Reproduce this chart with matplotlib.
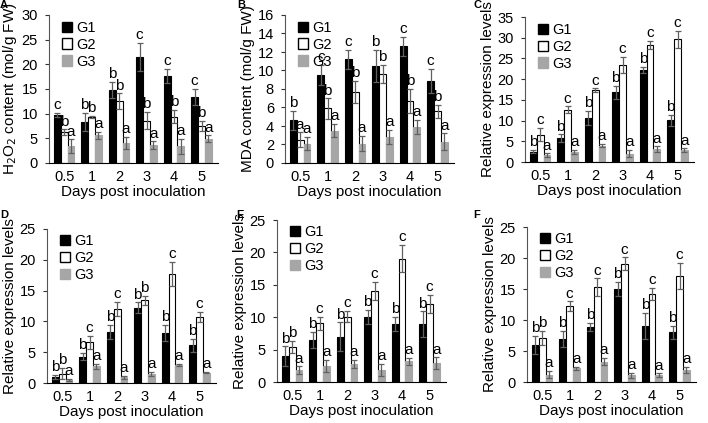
import numpy as np
import matplotlib
matplotlib.use("Agg")
import matplotlib.pyplot as plt
from matplotlib.patches import Patch

plt.rcParams["font.family"] = ["Liberation Sans", "DejaVu Sans"]

days = ["0.5", "1", "2", "3", "4", "5"]
groups = ["G1", "G2", "G3"]

# panel A: H2O2
a_mean = [[9.8, 8.3, 14.8, 21.5, 17.7, 13.4],
          [6.2, 9.4, 12.5, 8.6, 9.4, 7.5],
          [3.4, 5.6, 4.1, 3.6, 3.4, 4.9]]
a_err = [[0.4, 1.8, 1.6, 2.8, 1.4, 1.6],
         [0.6, 0.2, 1.6, 1.7, 1.3, 1.0],
         [1.4, 0.7, 1.2, 0.8, 1.5, 0.7]]
a_let = ["cbbccc", "bbbbbb", "aaaaaa"]

# panel B: MDA
b_mean = [[4.6, 9.5, 11.2, 10.5, 12.6, 8.9],
          [2.5, 5.9, 7.7, 9.6, 6.7, 5.6],
          [2.1, 3.5, 2.1, 2.8, 3.9, 2.3]]
b_err = [[1.0, 1.1, 1.0, 1.7, 1.0, 1.3],
         [0.8, 1.1, 1.2, 1.0, 1.3, 0.7],
         [0.7, 0.7, 0.8, 0.8, 0.8, 0.9]]
b_let = ["bccbcc", "abbbbb", "aaaaaa"]

# panel C
c_mean = [[2.5, 5.8, 10.6, 16.8, 22.2, 10.1],
          [6.6, 12.6, 17.3, 23.4, 28.3, 29.6],
          [1.7, 2.5, 3.9, 2.0, 3.1, 2.9]]
c_err = [[0.4, 0.9, 1.7, 1.6, 0.8, 1.3],
         [1.6, 0.8, 0.5, 2.0, 1.0, 2.0],
         [0.4, 0.5, 0.4, 0.9, 0.7, 0.4]]
c_let = ["bbbbbb", "cccccc", "aaaaaa"]

# panel D
d_mean = [[1.0, 4.3, 8.3, 12.2, 8.1, 6.1],
          [1.5, 6.6, 12.0, 13.4, 17.7, 10.7],
          [0.5, 2.7, 0.9, 1.5, 2.9, 1.7]]
d_err = [[0.3, 0.6, 1.1, 0.9, 1.3, 1.1],
         [0.9, 1.1, 1.2, 0.8, 2.0, 0.8],
         [0.2, 0.4, 0.3, 0.3, 0.2, 0.1]]
d_let = ["bbbbbb", "bccbcc", "aaaaaa"]

# panel E
e_mean = [[4.0, 6.5, 7.0, 10.0, 9.0, 8.9],
          [5.4, 9.1, 10.1, 14.1, 19.0, 12.0],
          [1.8, 2.5, 2.8, 1.9, 3.2, 2.9]]
e_err = [[1.5, 1.2, 2.2, 1.1, 1.1, 2.0],
         [0.9, 1.0, 0.9, 1.4, 2.1, 1.4],
         [0.6, 0.9, 0.6, 0.9, 0.5, 0.9]]
e_let = ["bbbbbb", "bccccc", "aaaaaa"]

# panel F
f_mean = [[6.0, 7.0, 8.9, 15.0, 9.1, 8.0],
          [7.1, 12.2, 15.3, 19.1, 14.2, 17.1],
          [1.2, 2.2, 3.3, 1.1, 1.1, 2.0]]
f_err = [[1.5, 1.3, 0.6, 1.2, 2.1, 1.1],
         [1.2, 0.8, 1.4, 1.0, 1.0, 2.1],
         [0.6, 0.3, 0.6, 0.4, 0.3, 0.5]]
f_let = ["bbbbbb", "bccccc", "aaaaaa"]

W, H = 708, 423
fig = plt.figure(figsize=(W / 100, H / 100), dpi=100)

face = ["black", "white", "#a6a6a6"]
edge = ["black", "black", "#a6a6a6"]
bw = 0.25


def panel(box, tag, tagpos, mean, err, lets, ymax, ystep, ylabel):
    left, top, bottom = box
    width = 169
    ax = fig.add_axes([left / W, 1 - bottom / H, width / W, (bottom - top) / H])
    x = np.arange(len(days))
    for g in range(3):
        xs = x + (g - 1) * bw
        ax.bar(xs, mean[g], bw, color=face[g], edgecolor=edge[g], linewidth=0.8,
               label=groups[g], zorder=2)
        ax.errorbar(xs, mean[g], yerr=err[g], fmt="none", ecolor="#606060",
                    elinewidth=0.9, capsize=2, capthick=0.9, zorder=3)
        for i in range(len(days)):
            ax.text(xs[i], mean[g][i] + err[g][i] + ymax * 0.005, lets[g][i],
                    ha="center", va="bottom", fontsize=11)
    ax.set_xlim(-0.55, 5.6)
    ax.set_ylim(0, ymax)
    ax.set_yticks(np.arange(0, ymax + 0.01, ystep))
    ax.set_xticks(x)
    ax.set_xticklabels(days)
    ax.tick_params(axis="x", length=0, labelsize=10.5, pad=5)
    ax.tick_params(axis="y", length=3, width=0.8, labelsize=10.5, colors="#333333",
                   labelcolor="black", pad=5)
    for s in ["top", "right"]:
        ax.spines[s].set_visible(False)
    ax.spines["left"].set_color("#555555")
    ax.spines["bottom"].set_color("black")
    ax.set_xlabel("Days post inoculation", fontsize=11, labelpad=1)
    ax.set_ylabel(ylabel, fontsize=11, labelpad=2)
    handles = [Patch(facecolor=face[g], edgecolor=edge[g], label=groups[g])
               for g in range(3)]
    ax.legend(handles=handles, loc="upper left", bbox_to_anchor=(0.0, 1.05),
              frameon=False, fontsize=10.5, handlelength=0.7, handleheight=0.7,
              handletextpad=0.3, labelspacing=0.2)
    fig.text(tagpos[0] / W, 1 - tagpos[1] / H, tag, fontsize=8,
             fontweight="bold", ha="left", va="top")
    return ax


rel = "Relative expression levels"
panel((49, 15, 163), "A", (0, 0), a_mean, a_err, a_let, 30, 5,
      "H$_2$O$_2$ content (mol/g FW)")
panel((285, 15, 163), "B", (237, 0), b_mean, b_err, b_let, 16, 2,
      "MDA content (mol/g FW)")
panel((525, 17, 162), "C", (473, 0), c_mean, c_err, c_let, 35, 5, rel)
panel((47, 229, 383), "D", (0, 210), d_mean, d_err, d_let, 25, 5, rel)
panel((277, 220, 382), "E", (236, 210), e_mean, e_err, e_let, 25, 5, rel)
panel((527, 227, 382), "F", (473, 210), f_mean, f_err, f_let, 25, 5, rel)

fig.savefig("out.png", dpi=100)
